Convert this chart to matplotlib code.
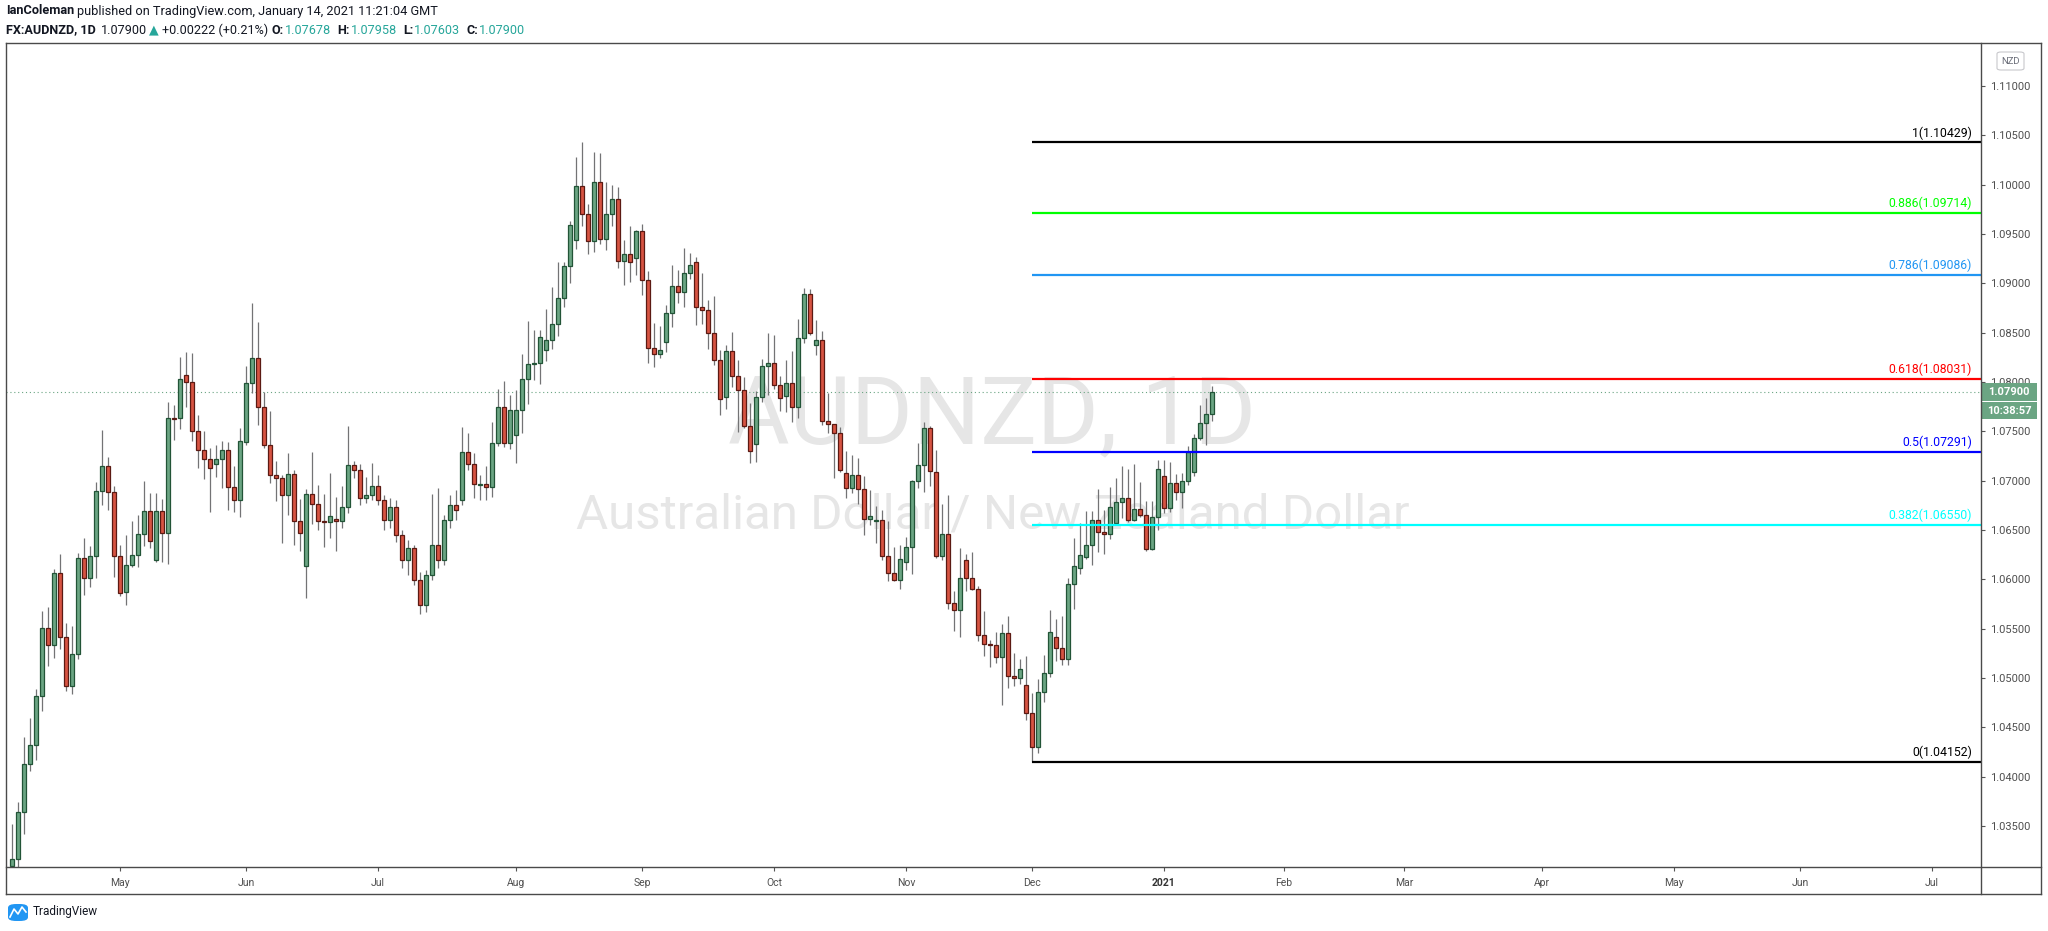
import numpy as np
import pandas as pd
import matplotlib
matplotlib.use('Agg')
import matplotlib.pyplot as plt
from matplotlib.patches import Rectangle, FancyBboxPatch
from matplotlib.lines import Line2D

plt.rcParams['font.family'] = ['Roboto', 'DejaVu Sans']

# daily OHLC, AUDNZD, 2020-04-07 .. 2021-01-14 (one row of ten per line)
opens = [
    1.03095, 1.03166, 1.03642, 1.04128, 1.04321, 1.04818, 1.05507, 1.05335, 1.06064, 1.05416,
    1.04919, 1.05243, 1.06216, 1.06014, 1.06237, 1.06895, 1.07149, 1.06885, 1.06237, 1.05872,
    1.06145, 1.06247, 1.06460, 1.06693, 1.06196, 1.06693, 1.06470, 1.07635, 1.07635, 1.08071,
    1.08000, 1.07503, 1.07311, 1.07220, 1.07169, 1.07220, 1.07311, 1.06936, 1.06804, 1.07392,
    1.07990, 1.08243, 1.07747, 1.07362, 1.07057, 1.07027, 1.06855, 1.07068, 1.06591, 1.06135,
    1.06865, 1.06764, 1.06591, 1.06581, 1.06612, 1.06591, 1.06733, 1.07159, 1.07108, 1.06824,
    1.06855, 1.06946, 1.06804, 1.06601, 1.06733, 1.06449, 1.06196, 1.06318, 1.05993, 1.05740,
    1.06044, 1.06348, 1.06196, 1.06601, 1.06753, 1.06804, 1.07291, 1.07169, 1.06961, 1.06966,
    1.06936, 1.07382, 1.07747, 1.07382, 1.07463, 1.07716, 1.08030, 1.08182, 1.08193, 1.08324,
    1.08426, 1.08588, 1.08851, 1.09176, 1.09439, 1.09986, 1.09703, 1.09429, 1.10027, 1.09449,
    1.09703, 1.09855, 1.09226, 1.09297, 1.09257, 1.09530, 1.09034, 1.08345, 1.08284, 1.08405,
    1.08699, 1.08973, 1.08912, 1.09105, 1.09216, 1.08760, 1.08730, 1.08497, 1.08223, 1.07848,
    1.08314, 1.08061, 1.07919, 1.07554, 1.07372, 1.07848, 1.08162, 1.08193, 1.07970, 1.07858,
    1.07990, 1.07747, 1.08446, 1.08892, 1.08375, 1.08426, 1.07605, 1.07574, 1.07483, 1.07078,
    1.06926, 1.07057, 1.06916, 1.06612, 1.06591, 1.06601, 1.06237, 1.06064, 1.05993, 1.06176,
    1.06328, 1.06997, 1.07159, 1.07534, 1.07088, 1.06237, 1.06460, 1.05760, 1.05689, 1.06196,
    1.06014, 1.05902, 1.05436, 1.05345, 1.05335, 1.05213, 1.05456, 1.05020, 1.05000, 1.04929,
    1.04645, 1.04301, 1.04858, 1.05051, 1.05416, 1.05304, 1.05193, 1.05953, 1.06115, 1.06226,
    1.06348, 1.06601, 1.06480, 1.06460, 1.06571, 1.06784, 1.06824, 1.06601, 1.06713, 1.06652,
    1.06307, 1.06632, 1.07047, 1.06723, 1.06976, 1.06885, 1.06997, 1.07088, 1.07432, 1.07585,
    1.07678,
]
highs = [
    1.03520, 1.03743, 1.04402, 1.04595, 1.04889, 1.05679, 1.05720, 1.06105, 1.06257, 1.05558,
    1.05527, 1.06267, 1.06419, 1.06338, 1.06987, 1.07514, 1.07240, 1.06946, 1.06348, 1.06449,
    1.06591, 1.06652, 1.06997, 1.06875, 1.06875, 1.06814, 1.07797, 1.07767, 1.08253, 1.08304,
    1.08294, 1.07666, 1.07503, 1.07331, 1.07362, 1.07402, 1.07392, 1.07149, 1.07534, 1.08162,
    1.08801, 1.08608, 1.07899, 1.07706, 1.07199, 1.07057, 1.07280, 1.07108, 1.06814, 1.06916,
    1.07291, 1.06956, 1.06865, 1.07078, 1.06835, 1.06946, 1.07554, 1.07199, 1.07169, 1.07037,
    1.07179, 1.07057, 1.06855, 1.06824, 1.06804, 1.06500, 1.06399, 1.06348, 1.06074, 1.06095,
    1.06865, 1.06926, 1.06652, 1.06855, 1.06905, 1.07544, 1.07483, 1.07280, 1.07057, 1.07149,
    1.07595, 1.07929, 1.08010, 1.07868, 1.07919, 1.08284, 1.08618, 1.08527, 1.08527, 1.08740,
    1.08963, 1.09216, 1.09216, 1.09632, 1.10280, 1.10429, 1.09804, 1.10331, 1.10321, 1.10027,
    1.09997, 1.09976, 1.09439, 1.09581, 1.09540, 1.09601, 1.09125, 1.08598, 1.08568, 1.08780,
    1.09186, 1.09135, 1.09358, 1.09307, 1.09267, 1.09105, 1.08831, 1.08872, 1.08324, 1.08375,
    1.08507, 1.08223, 1.08051, 1.07787, 1.07909, 1.08233, 1.08497, 1.08476, 1.08061, 1.08223,
    1.08314, 1.08639, 1.08953, 1.08943, 1.08628, 1.08517, 1.07889, 1.07574, 1.07544, 1.07301,
    1.07260, 1.07230, 1.07047, 1.06905, 1.06743, 1.06703, 1.06591, 1.06328, 1.06348, 1.06429,
    1.07007, 1.07382, 1.07595, 1.07554, 1.07311, 1.06764, 1.06855, 1.05882, 1.06318, 1.06257,
    1.06277, 1.05932, 1.05679, 1.05385, 1.05466, 1.05547, 1.05628, 1.05253, 1.05193, 1.05223,
    1.04848, 1.04990, 1.05233, 1.05689, 1.05598, 1.05628, 1.06014, 1.06419, 1.06571, 1.06693,
    1.06693, 1.06916, 1.06703, 1.06936, 1.07027, 1.07149, 1.07118, 1.07169, 1.06987, 1.06794,
    1.06794, 1.07210, 1.07210, 1.07189, 1.07068, 1.07078, 1.07351, 1.07473, 1.07767, 1.07838,
    1.07958,
]
lows = [
    1.02993, 1.03085, 1.03419, 1.04058, 1.04169, 1.04666, 1.05122, 1.05203, 1.05294, 1.04868,
    1.04838, 1.05193, 1.05841, 1.05922, 1.06014, 1.06753, 1.06703, 1.06024, 1.05831, 1.05740,
    1.06125, 1.06125, 1.06338, 1.06318, 1.06176, 1.06176, 1.06155, 1.07412, 1.07524, 1.07747,
    1.07402, 1.07128, 1.07017, 1.06682, 1.07037, 1.06926, 1.06703, 1.06682, 1.06632, 1.07362,
    1.07889, 1.07564, 1.07331, 1.06976, 1.06794, 1.06368, 1.06652, 1.06348, 1.06287, 1.05811,
    1.06561, 1.06500, 1.06328, 1.06419, 1.06287, 1.06520, 1.06672, 1.07027, 1.06753, 1.06774,
    1.06804, 1.06753, 1.06500, 1.06520, 1.06378, 1.06115, 1.06044, 1.05943, 1.05649, 1.05669,
    1.05993, 1.06115, 1.06145, 1.06520, 1.06601, 1.06753, 1.07108, 1.06824, 1.06804, 1.06804,
    1.06835, 1.07351, 1.07341, 1.07321, 1.07179, 1.07483, 1.07777, 1.08020, 1.07980, 1.08213,
    1.08334, 1.08466, 1.08760, 1.09003, 1.09348, 1.09581, 1.09297, 1.09318, 1.09399, 1.09338,
    1.09581, 1.09155, 1.08983, 1.09014, 1.09084, 1.08882, 1.08193, 1.08152, 1.08243, 1.08304,
    1.08557, 1.08801, 1.08760, 1.09044, 1.08578, 1.08588, 1.08334, 1.08172, 1.07666, 1.07726,
    1.07949, 1.07493, 1.07534, 1.07179, 1.07189, 1.07797, 1.07868, 1.07929, 1.07706, 1.07696,
    1.07595, 1.07635, 1.08395, 1.08476, 1.08274, 1.07564, 1.07483, 1.07027, 1.07088, 1.06824,
    1.06875, 1.06764, 1.06449, 1.06551, 1.06368, 1.06196, 1.05983, 1.05983, 1.05902, 1.06095,
    1.06054, 1.06926, 1.06885, 1.06946, 1.06216, 1.06196, 1.05699, 1.05476, 1.05416, 1.05882,
    1.05892, 1.05375, 1.05223, 1.05112, 1.05152, 1.04726, 1.04899, 1.04919, 1.04939, 1.04574,
    1.04152, 1.04240, 1.04757, 1.05010, 1.05172, 1.05132, 1.05132, 1.05699, 1.06054, 1.06206,
    1.06145, 1.06277, 1.06257, 1.06409, 1.06571, 1.06622, 1.06581, 1.06591, 1.06632, 1.06287,
    1.06297, 1.06500, 1.06672, 1.06682, 1.06804, 1.06723, 1.06956, 1.07047, 1.07412, 1.07362,
    1.07603,
]
closes = [
    1.03166, 1.03642, 1.04128, 1.04321, 1.04818, 1.05507, 1.05335, 1.06064, 1.05416, 1.04919,
    1.05243, 1.06216, 1.06014, 1.06237, 1.06895, 1.07149, 1.06885, 1.06237, 1.05862, 1.06145,
    1.06247, 1.06460, 1.06693, 1.06389, 1.06693, 1.06470, 1.07635, 1.07625, 1.08030, 1.08000,
    1.07503, 1.07311, 1.07220, 1.07128, 1.07220, 1.07311, 1.06936, 1.06804, 1.07402, 1.07990,
    1.08243, 1.07747, 1.07362, 1.07057, 1.07027, 1.06855, 1.07068, 1.06591, 1.06470, 1.06865,
    1.06764, 1.06591, 1.06581, 1.06642, 1.06591, 1.06733, 1.07159, 1.07108, 1.06824, 1.06855,
    1.06946, 1.06804, 1.06601, 1.06733, 1.06449, 1.06196, 1.06318, 1.05993, 1.05740, 1.06044,
    1.06348, 1.06196, 1.06601, 1.06753, 1.06703, 1.07291, 1.07169, 1.06966, 1.06966, 1.06936,
    1.07382, 1.07747, 1.07382, 1.07716, 1.07716, 1.08030, 1.08182, 1.08193, 1.08456, 1.08426,
    1.08588, 1.08851, 1.09176, 1.09591, 1.09986, 1.09703, 1.09429, 1.10027, 1.09449, 1.09703,
    1.09855, 1.09226, 1.09297, 1.09216, 1.09530, 1.09034, 1.08345, 1.08284, 1.08324, 1.08699,
    1.08973, 1.08912, 1.09105, 1.09186, 1.08760, 1.08730, 1.08497, 1.08223, 1.07828, 1.08314,
    1.08061, 1.07919, 1.07554, 1.07301, 1.07848, 1.08162, 1.08193, 1.07970, 1.07838, 1.07990,
    1.07747, 1.08446, 1.08892, 1.08497, 1.08426, 1.07605, 1.07574, 1.07483, 1.07108, 1.06926,
    1.07057, 1.06916, 1.06612, 1.06642, 1.06601, 1.06237, 1.06064, 1.05993, 1.06206, 1.06328,
    1.06997, 1.07159, 1.07534, 1.07098, 1.06237, 1.06460, 1.05760, 1.05689, 1.06014, 1.06014,
    1.05902, 1.05436, 1.05345, 1.05335, 1.05213, 1.05456, 1.05020, 1.05000, 1.05091, 1.04645,
    1.04301, 1.04858, 1.05051, 1.05466, 1.05304, 1.05193, 1.05953, 1.06135, 1.06247, 1.06348,
    1.06601, 1.06480, 1.06460, 1.06733, 1.06784, 1.06824, 1.06601, 1.06713, 1.06652, 1.06307,
    1.06632, 1.07118, 1.06723, 1.06976, 1.06885, 1.06997, 1.07291, 1.07432, 1.07585, 1.07676,
    1.07900,
]

fib_ratios = ['1', '0.886', '0.786', '0.618', '0.5', '0.382', '0']
fib_prices = [1.10429, 1.09714, 1.09086, 1.08031, 1.07291, 1.06550, 1.04152]
fib_colors = ['#000000', '#00ff00', '#2196f3', '#ff0000', '#0000ff', '#00ffff', '#000000']
price_ticks = np.arange(1.035, 1.1101, 0.005)

# trading days (no weekends, no Dec 25 / Jan 1 bars)
dates = pd.bdate_range('2020-04-07', '2021-07-30')
dates = dates[~dates.isin(pd.to_datetime(['2020-12-25', '2021-01-01']))]

W, H = 2048, 931
def fx(p):
    return p / W
def fy(p):
    return 1 - p / H

AX_R = 1981   # price axis line
BOX_R = 2041  # outer frame right edge

fig = plt.figure(figsize=(W / 100, H / 100), dpi=100)
fig.patch.set_facecolor('white')
ax = fig.add_axes([fx(6), fy(867), fx(AX_R) - fx(6), fy(43) - fy(867)])
ax.set_facecolor('white')

n = len(closes)
x = np.arange(n)
o, hi, lo, c = map(np.array, (opens, highs, lows, closes))
up = c >= o

ax.vlines(x, lo, hi, color='#737375', lw=0.9, zorder=2)
body_lo = np.minimum(o, c)
body_h = np.maximum(np.abs(c - o), 0.00003)
ax.bar(x[up], body_h[up], bottom=body_lo[up], width=0.66, color='#6ba583',
       edgecolor='#225437', lw=0.9, zorder=3)
ax.bar(x[~up], body_h[~up], bottom=body_lo[~up], width=0.66, color='#d75442',
       edgecolor='#5b1a13', lw=0.9, zorder=3)

x_right = (AX_R - 12) / 6
ax.set_xlim(-1, x_right)
ax.set_ylim(1.03085, 1.11436)

# watermark
ax.text(0.4995, 1 - (443 - 43) / 824, 'AUDNZD, 1D', transform=ax.transAxes, ha='center',
        va='baseline', fontsize=68, color='#e6e6e6', zorder=0)
ax.text(0.4995, 1 - (528 - 43) / 824, 'Australian Dollar / New Zealand Dollar',
        transform=ax.transAxes, ha='center', va='baseline', fontsize=35.5, color='#e6e6e6', zorder=0)

# fib levels from Dec 1 low
fib_start = dates.get_loc(pd.Timestamp('2020-12-01'))
for r, p, col in zip(fib_ratios, fib_prices, fib_colors):
    ax.hlines(p, fib_start, x_right, color=col, lw=1.6, zorder=4)
    ax.annotate(f'{r}({p:.5f})', (x_right - 1.5, p), xytext=(0, 2), textcoords='offset points',
                ha='right', va='bottom', fontsize=8.8, color=col, zorder=5)

# last price line
ax.axhline(closes[-1], color='#6ba583', lw=0.8, ls=(0, (1, 2.5)), zorder=1)

# price axis
ax.yaxis.tick_right()
ax.set_yticks(price_ticks)
ax.set_yticklabels([f'{v:.5f}' for v in price_ticks])
ax.tick_params(axis='y', direction='out', length=3, width=0.8, color='#555555',
               labelsize=8, labelcolor='#4f4f4f', pad=3.5)

# time axis: first bar of each month
month_pos, month_lab = [], []
for (yy, mm), grp in pd.Series(np.arange(len(dates)), index=dates).groupby([dates.year, dates.month]):
    i0 = grp.iloc[0]
    if i0 == 0 or i0 > x_right:
        continue
    month_pos.append(i0)
    month_lab.append(str(yy) if mm == 1 else pd.Timestamp(year=yy, month=mm, day=1).strftime('%b'))
ax.set_xticks(month_pos)
ax.set_xticklabels(month_lab)
ax.tick_params(axis='x', direction='out', length=3, width=0.8, color='#555555',
               labelsize=7.5, labelcolor='#4f4f4f', pad=5)
for t in ax.get_xticklabels():
    if t.get_text().isdigit():
        t.set_fontweight('bold')
        t.set_color('#333333')

for s in ax.spines.values():
    s.set_visible(False)

# frame lines
bc = '#4a4a4a'
for (x0, y0, x1, y1) in [(6, 43, BOX_R, 43), (6, 894, BOX_R, 894), (6, 43, 6, 894),
                         (BOX_R, 43, BOX_R, 894), (AX_R, 43, AX_R, 894), (6, 867, BOX_R, 867)]:
    fig.add_artist(Line2D([fx(x0), fx(x1)], [fy(y0), fy(y1)], color=bc, lw=1.0))

# last price and countdown tags
tag = '#6ba583'
fig.add_artist(Rectangle((fx(AX_R), fy(400.5)), fx(2037) - fx(AX_R), fy(383.5) - fy(400.5),
                         facecolor=tag, edgecolor='none'))
fig.text(fx(2009), fy(392), '1.07900', ha='center', va='center', fontsize=8,
         color='white', fontweight='bold')
fig.add_artist(Rectangle((fx(AX_R), fy(419)), fx(2037) - fx(AX_R), fy(402) - fy(419),
                         facecolor=tag, edgecolor='none'))
fig.text(fx(2009), fy(410.5), '10:38:57', ha='center', va='center', fontsize=8,
         color='white', fontweight='bold')

# currency box
fig.add_artist(FancyBboxPatch((fx(1997), fy(70)), fx(2024) - fx(1997), fy(52) - fy(70),
                              boxstyle='round,pad=0,rounding_size=0.002',
                              facecolor='white', edgecolor='#c8c8cc', lw=0.8))
fig.text(fx(2010.5), fy(61), 'NZD', ha='center', va='center', fontsize=6.8, color='#6a6d78')

# header
fig.text(fx(6), fy(11), 'IanColeman', fontsize=9.2, fontweight='bold', color='#131722',
         va='center', ha='left')
r = fig.canvas.get_renderer()
t0 = fig.texts[-1]
x_px = t0.get_window_extent(renderer=r).x1 + 3
fig.text(fx(x_px), fy(11), 'published on TradingView.com, January 14, 2021 11:21:04 GMT',
         fontsize=9.2, color='#131722', va='center', ha='left')

teal = '#26a69a'
parts = [('FX:AUDNZD, 1D', '#131722', 'bold', 5), ('1.07900', '#131722', 'normal', 2),
         ('\u25b2', teal, 'normal', 3), ('+0.00222 (+0.21%)', '#131722', 'normal', 4),
         ('O:', '#131722', 'bold', 1), ('1.07678', teal, 'normal', 6),
         ('H:', '#131722', 'bold', 1), ('1.07958', teal, 'normal', 6),
         ('L:', '#131722', 'bold', 1), ('1.07603', teal, 'normal', 6),
         ('C:', '#131722', 'bold', 1), ('1.07900', teal, 'normal', 0)]
x_px = 6
for s, col, wt, gap in parts:
    t = fig.text(fx(x_px), fy(30), s, fontsize=9.1, fontweight=wt, color=col,
                 va='center', ha='left')
    x_px = t.get_window_extent(renderer=r).x1 + gap

# footer logo
fig.add_artist(FancyBboxPatch((fx(8), fy(921)), fx(28) - fx(8), fy(904) - fy(921),
                              boxstyle='round,pad=0,rounding_size=0.004',
                              facecolor='#2196f3', edgecolor='none'))
fig.add_artist(Line2D([fx(10), fx(14), fx(18), fx(22), fx(26)],
                      [fy(917), fy(909), fy(914), fy(907), fy(912)], color='white', lw=1.2))
fig.text(fx(33), fy(912), 'TradingView', fontsize=8.5, color='#131722', va='center', ha='left')

fig.savefig('out.png', dpi=100, facecolor='white')
